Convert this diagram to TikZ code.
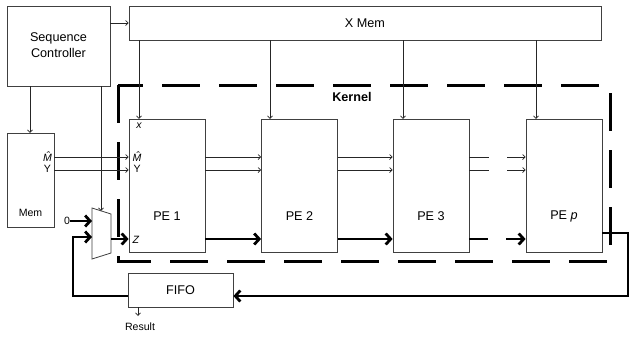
\documentclass[tikz,border=0pt]{standalone}
\usepackage{fontspec}
\setmainfont{Liberation Sans}
\usetikzlibrary{arrows.meta}
\begin{document}
\begin{tikzpicture}[x=1bp,y=-1bp,
  box/.style={draw=black!75, line width=0.8bp, inner sep=0pt, fill=white},
  big/.style={font=\fontsize{12.7}{15.5}\selectfont, inner sep=0pt},
  small/.style={font=\fontsize{10.6}{12}\selectfont, inner sep=0pt},
  thinline/.style={draw=black!85, line width=0.7bp},
  thinarr/.style={thinline, -{Straight Barb[length=2.6bp,width=5bp]}},
  thickline/.style={draw=black, line width=2.8bp},
  thickarr/.style={thickline, -{Straight Barb[length=5bp,width=11bp]}},
  kernel/.style={draw=black, line width=3bp, dash pattern=on 38bp off 19bp}]
\useasboundingbox[fill=white] (0,0) rectangle (629,339);
% kernel dashed frame
\draw[kernel] (118,85) -- (118,261) -- (610,261) -- (610,85) -- cycle;
\node[big, font=\fontsize{12.7}{15.5}\selectfont\bfseries] (kl) at (352,97) {Kernel};
% boxes
\node[box, minimum width=103bp, minimum height=80bp] (sc) at (58.5,46) {};
\node[big, align=center] (sct) at (58.5,45) {Sequence\\Controller};
\node[box, minimum width=472bp, minimum height=34bp] (xmem) at (365,23) {};
\node[big] (xmt) at (365,23) {X Mem};
\node[box, minimum width=47bp, minimum height=94bp] (mem) at (30.5,180) {};
\node[small] (memt) at (30.5,213) {Mem};
\node[small, anchor=east] (memm) at (52,157) {\itshape\^{M}};
\node[small, anchor=east] (memy) at (51,169) {Y};
\node[box, minimum width=76bp, minimum height=133bp] (pe1) at (167,185.5) {};
\node[box, minimum width=76bp, minimum height=133bp] (pe2) at (299.5,185.5) {};
\node[box, minimum width=76bp, minimum height=133bp] (pe3) at (431,185.5) {};
\node[box, minimum width=76bp, minimum height=133bp] (pep) at (564,185.5) {};
\node[big] (pe1t) at (167,216) {PE 1};
\node[big] (pe2t) at (299.5,216) {PE 2};
\node[big] (pe3t) at (431,216) {PE 3};
\node[big] (pept) at (564,216) {PE \textit{p}};
\node[small] (px) at (139,126) {\itshape x};
\node[small, anchor=west] (pm) at (132.5,157) {\itshape\^{M}};
\node[small, anchor=west] (py) at (133.5,169) {Y};
\node[small, anchor=west] (pz) at (132.5,240) {\itshape Z};
\node[box, minimum width=105bp, minimum height=34bp] (fifo) at (180.5,290) {};
\node[big] (fifot) at (180.5,290) {FIFO};
\node[small] (res) at (140,327) {Result};
\node[small] (zero) at (67,221) {0};
% mux
\coordinate (muxA) at (92,208);
\coordinate (muxB) at (111,214);
\coordinate (muxC) at (111,253);
\coordinate (muxD) at (92,259);
\draw[box] (muxA) -- (muxB) -- (muxC) -- (muxD) -- cycle;
\coordinate (mux0) at (92,221);
\coordinate (mux1) at (92,237);
\coordinate (muxo) at (111,239);
\coordinate (muxs) at (101,211);
% helper coordinates
\coordinate (ya) at (0,23);
\coordinate (x1) at (139,119);
\coordinate (x2) at (270,119);
\coordinate (x3) at (403,119);
\coordinate (x4) at (536,119);
\coordinate (ym) at (0,157);
\coordinate (yy) at (0,170);
\coordinate (yz) at (0,239);
\coordinate (g1) at (489,0);
\coordinate (g2) at (507,0);
\coordinate (g3) at (488,0);
\coordinate (g4) at (506,0);
\coordinate (memin) at (30,133);
\coordinate (lc) at (73,296);
\coordinate (oy) at (0,233);
\coordinate (rc) at (628,296);
\coordinate (rend) at (138,316);
% thin connectors
\draw[thinarr] (sc.east |- ya) -- (xmem.west |- ya);
\draw[thinarr] (xmem.south -| x1) -- (x1);
\draw[thinarr] (xmem.south -| x2) -- (x2);
\draw[thinarr] (xmem.south -| x3) -- (x3);
\draw[thinarr] (xmem.south -| x4) -- (x4);
\draw[thinarr] (sc.south -| memin) -- (memin);
\draw[thinarr] (sc.south -| muxs) -- (muxs);
\draw[thinarr] (mem.east |- ym) -- (pe1.west |- ym);
\draw[thinarr] (mem.east |- yy) -- (pe1.west |- yy);
\draw[thinarr] (pe1.east |- ym) -- (pe2.west |- ym);
\draw[thinarr] (pe1.east |- yy) -- (pe2.west |- yy);
\draw[thinarr] (pe2.east |- ym) -- (pe3.west |- ym);
\draw[thinarr] (pe2.east |- yy) -- (pe3.west |- yy);
\draw[thinline] (pe3.east |- ym) -- (g1 |- ym);
\draw[thinline] (pe3.east |- yy) -- (g1 |- yy);
\draw[thinarr] (g2 |- ym) -- (pep.west |- ym);
\draw[thinarr] (g2 |- yy) -- (pep.west |- yy);
\draw[thinarr] (fifo.south -| rend) -- (rend);
% thick connectors
\draw[thickarr] (zero.east) -- (mux0);
\draw[thickarr] (fifo.west |- lc) -- (lc) |- (mux1);
\draw[thickarr] (muxo) -- (pe1.west |- muxo);
\draw[thickarr] (pe1.east |- yz) -- (pe2.west |- yz);
\draw[thickarr] (pe2.east |- yz) -- (pe3.west |- yz);
\draw[thickline] (pe3.east |- yz) -- (g3 |- yz);
\draw[thickarr] (g4 |- yz) -- (pep.west |- yz);
\draw[thickarr] (pep.east |- oy) -| (rc) -- (fifo.east |- rc);
\end{tikzpicture}
\end{document}
